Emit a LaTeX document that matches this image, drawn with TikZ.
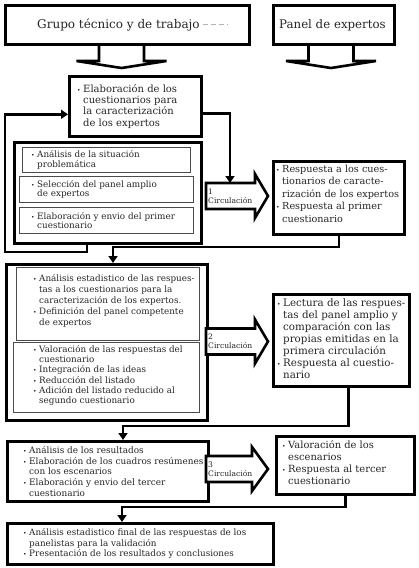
\documentclass[tikz,border=0pt]{standalone}
\usepackage{fontspec}
\setmainfont{DejaVu Serif}
\usetikzlibrary{arrows.meta}

\newcommand\fs[2]{\fontsize{#1}{#2}\selectfont}
\newlength\bulw
\setlength\bulw{6pt}
\newcommand\bul{\makebox[\bulw][l]{\fs{6}{6}\textbullet}}
\newcommand\ind{\hspace*{\bulw}}

\tikzset{
  marco/.style={draw, line width=2.6pt, fill=white, anchor=north west, inner sep=0pt},
  sub/.style={draw=black!70, line width=1.1pt, anchor=north west, inner sep=0pt},
  tam/.style 2 args={minimum width=#1pt, minimum height=#2pt},
  txt/.style={anchor=west, align=left, inner sep=0pt, text=black!85},
  flecha/.style={line width=2.6pt, -{Triangle[length=7pt, width=9pt]}},
  bloque/.style={line width=2.6pt, fill=white},
}

\begin{document}
\begin{tikzpicture}[x=1pt, y=-1pt, line join=miter]
\useasboundingbox (0,0) rectangle (418,568);

% flechas anchas bajo las cabeceras
\foreach \c in {121.5, 331}
  \draw[line width=2.6pt] (\c-22.5,43) -- (\c-22.5,61) -- (\c-45,61) -- (\c,68)
     -- (\c+45,61) -- (\c+22.5,61) -- (\c+22.5,43);

% cabeceras
\node[marco, tam={244}{39}] (grupo) at (4,4) {};
\node[txt, font=\fs{12}{14}] (grupot) at ([xshift=33pt]grupo.west) {Grupo técnico y de trabajo};
\draw[black!30, line width=0.8pt, dash pattern=on 5pt off 3pt] ([xshift=3pt]grupot.east) -- ++(25,0);
\node[marco, tam={121}{39}] (panel) at (272,4) {};
\node[txt, font=\fs{11.8}{14}] (panelt) at ([xshift=7pt]panel.west) {Panel de expertos};

% primera circulacion
\node[marco, tam={132}{60}] (elab) at (68,75) {};
\node[txt, font=\fs{10}{11.3}] (elabt) at ([xshift=9pt]elab.west)
  {\bul Elaboración de los\\\ind cuestionarios para\\\ind la caracterización\\\ind de los expertos};

\node[marco, tam={187}{101}] (grp1) at (13,141) {};
\node[sub, tam={168}{25}] (a1) at (22,147) {};
\node[sub, tam={174}{26}] (a2) at (19,176) {};
\node[sub, tam={174}{26}] (a3) at (19,207) {};
\node[txt, font=\fs{8.8}{9.5}] (a1t) at ([xshift=9pt]a1.west) {\bul Análisis de la situación\\\ind problemática};
\node[txt, font=\fs{8.8}{9.5}] (a2t) at ([xshift=12pt]a2.west) {\bul Selección del panel amplio\\\ind de expertos};
\node[txt, font=\fs{8.8}{9.5}] (a3t) at ([xshift=12pt]a3.west) {\bul Elaboración y envio del primer\\\ind cuestionario};

\node[marco, tam={131}{73}] (r1) at (272,160) {};
\node[txt, font=\fs{9.7}{12.5}] (r1t) at ([xshift=4pt, yshift=4pt]r1.west)
  {\bul Respuesta a los cues-\\\ind tionarios de caracte-\\\ind rización de los expertos\\\bul Respuesta al primer\\\ind cuestionario};

% segunda circulacion
\node[marco, tam={201}{156}] (grp2) at (5,263) {};
\node[sub, tam={183}{73}] (b1) at (16,267) {};
\node[sub, tam={186}{70}] (b2) at (13,342) {};
\node[txt, font=\fs{8.8}{11}] (b1t) at ([xshift=17pt, yshift=3pt]b1.west)
  {\bul Análisis estadistico de las respues-\\\ind tas a los cuestionarios para la\\\ind caracterización de los expertos.\\\bul Definición del panel competente\\\ind de expertos};
\node[txt, font=\fs{8.8}{10.3}] (b2t) at ([xshift=20pt, yshift=2pt]b2.west)
  {\bul Valoración de las respuestas del\\\ind cuestionario\\\bul Integración de las ideas\\\bul Reducción del listado\\\bul Adición del listado reducido al\\\ind segundo cuestionario};

\node[marco, tam={136}{92}] (r2) at (272,293) {};
\node[txt, font=\fs{10.3}{12}] (r2t) at ([xshift=5pt, yshift=2pt]r2.west)
  {\bul Lectura de las respues-\\\ind tas del panel amplio y\\\ind comparación con las\\\ind propias emitidas en la\\\ind primera circulación\\\bul Respuesta al cuestio-\\\ind nario};

% tercera circulacion
\node[marco, tam={201}{60}] (c3) at (6,440) {};
\node[txt, font=\fs{8.9}{10.8}] (c3t) at ([xshift=17pt]c3.west)
  {\bul Análisis de los resultados\\\bul Elaboración de los cuadros resúmenes\\\ind con los escenarios\\\bul Elaboración y envio del tercer\\\ind cuestionario};

\node[marco, tam={138}{58}] (r3) at (275,435) {};
\node[txt, font=\fs{9.9}{12}] (r3t) at ([xshift=7pt, yshift=3pt]r3.west)
  {\bul Valoración de los\\\ind escenarios\\\bul Respuesta al tercer\\\ind cuestionario};

% cierre
\node[marco, tam={266}{41}] (fin) at (6,522) {};
\node[txt, font=\fs{8.8}{10.5}] (fint) at ([xshift=17pt]fin.west)
  {\bul Análisis estadistico final de las respuestas de los\\\ind panelistas para la validación\\\bul Presentación de los resultados y conclusiones};

% flechas de circulacion
\foreach \yc/\xh/\n in {196/255/1, 341.5/255/2, 469/252/3} {
  \filldraw[bloque] (206,\yc-13) -- (\xh,\yc-13) -- (\xh,\yc-22) -- (268,\yc)
     -- (\xh,\yc+22) -- (\xh,\yc+13) -- (206,\yc+13) -- cycle;
  \node[txt, font=\fs{7.6}{9}] (circ\n) at (208,\yc) {\n\\Circulación};
}

% conectores
\coordinate (e1) at (230,183);
\coordinate (k1) at (113,247);
\coordinate (k2) at (123,426);
\coordinate (k3) at (122,507);
\draw[flecha] ([yshift=-7pt]elab.east) -| (e1);
\draw[flecha] ([xshift=74pt]grp1.south west) |- (5,252) |- ([yshift=-8pt]elab.west);
\draw[flecha] (r1.south) |- (k1) -- (k1 |- grp2.north);
\draw[flecha] ([xshift=7pt]r2.south) |- (k2) -- (k2 |- c3.north);
\draw[flecha] (r3.south) |- (k3) -- (k3 |- fin.north);
\end{tikzpicture}
\end{document}
